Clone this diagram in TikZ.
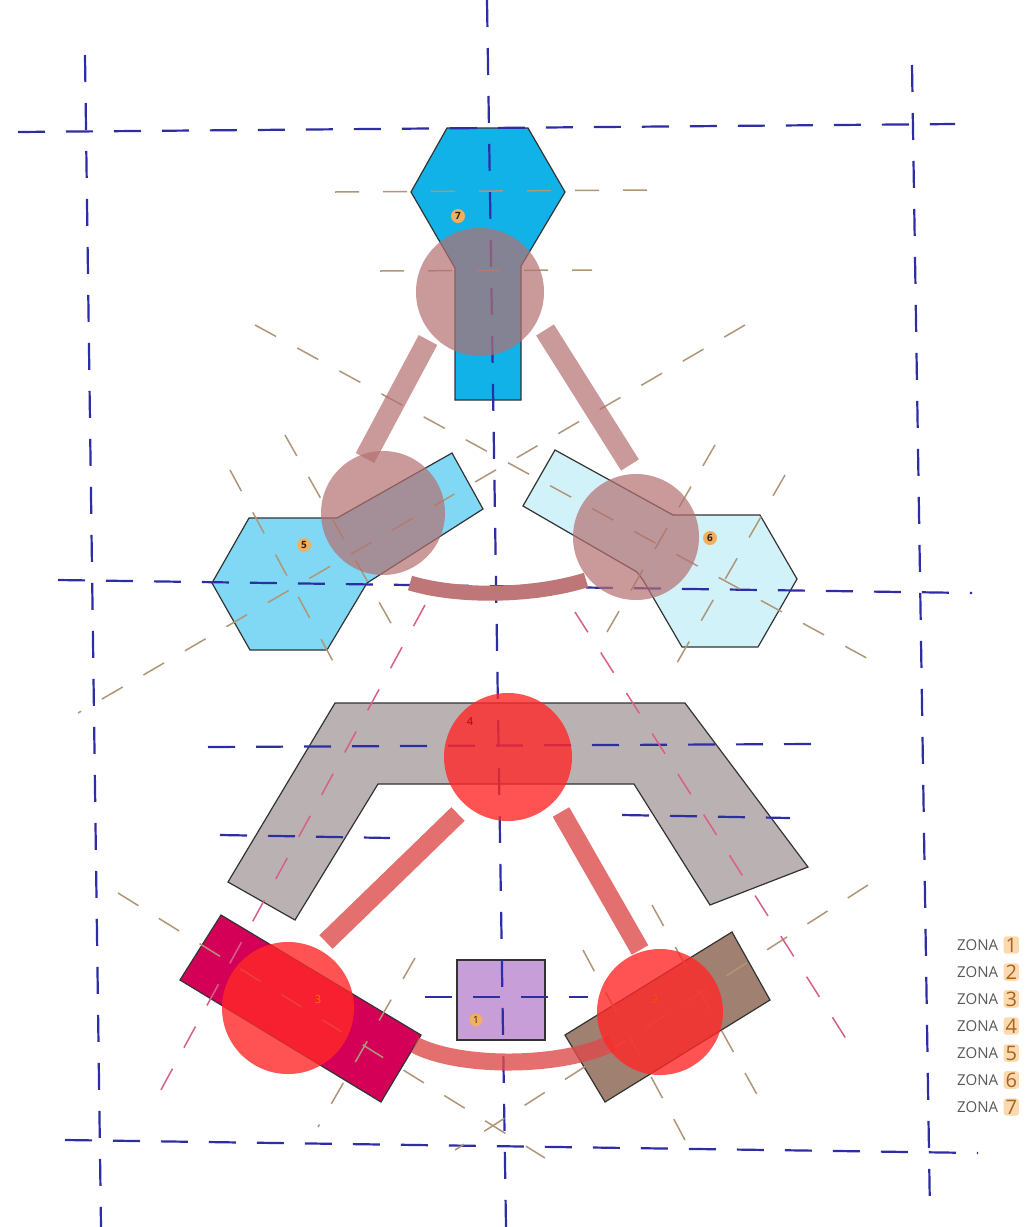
\documentclass[tikz,border=0pt]{standalone}
\usepackage{fontspec}
\newfontfamily\zfont{Open Sans}
\definecolor{navy}{RGB}{45,45,165}
\definecolor{tanl}{RGB}{176,150,120}
\definecolor{pinkd}{RGB}{215,95,140}
\definecolor{cyanA}{RGB}{16,178,232}
\definecolor{cyanB}{RGB}{128,216,244}
\definecolor{cyanC}{RGB}{210,242,250}
\definecolor{grayZ}{RGB}{186,178,178}
\definecolor{lav}{RGB}{200,158,216}
\definecolor{crim}{RGB}{212,0,88}
\definecolor{brownZ}{RGB}{160,128,112}
\definecolor{mauve}{RGB}{180,112,112}
\definecolor{arcrod}{RGB}{190,118,120}
\definecolor{redC}{RGB}{255,40,40}
\definecolor{rodR}{RGB}{220,75,75}
\definecolor{lbl}{RGB}{240,176,96}
\definecolor{hl}{RGB}{252,218,176}
\definecolor{numc}{RGB}{168,100,30}
\tikzset{
  zone/.style={draw=black!80, line width=1.2pt, line join=miter},
  bluedash/.style={navy, line width=2.2pt, dash pattern=on 27pt off 21pt},
  tandash/.style={tanl, line width=1.5pt, dash pattern=on 24pt off 24pt},
  pinkdash/.style={pinkd, line width=1.5pt, dash pattern=on 24pt off 24pt},
  ball/.style={fill=mauve, fill opacity=0.7},
  redball/.style={fill=redC, fill opacity=0.8},
  toprod/.style={draw=mauve, draw opacity=0.7, line width=21pt},
  lowrod/.style={draw=rodR, draw opacity=0.8, line width=19pt},
  tag/.style={circle, fill=lbl, inner sep=0pt, minimum size=14pt, text=black!75!brown, font=\zfont\bfseries\fontsize{10}{10}\selectfont},
  faint/.style={inner sep=0pt, font=\zfont\fontsize{11}{11}\selectfont},
  zonatxt/.style={anchor=west, inner sep=0pt, text=black!65, font=\zfont\fontsize{15}{15}\selectfont},
  zonanum/.style={anchor=west, fill=hl, rounded corners=3pt, inner xsep=2pt, inner ysep=1.5pt, text=numc, font=\zfont\fontsize{20}{20}\selectfont}
}
\begin{document}
\begin{tikzpicture}[x=1pt, y=-1pt]
\useasboundingbox (0,0) rectangle (1032,1227);
\fill[white] (0,0) rectangle (1032,1227);

% ---------- zone shapes ----------
% zone 4 (grey)
\draw[zone, fill=grayZ] (335,703) -- (685,703) -- (808,867) -- (710,905) -- (634,784) -- (378,784) -- (295,920) -- (228,882) -- cycle;
% zone 7 (cyan)
\draw[zone, fill=cyanA] (447,128) -- (528,128) -- (565,192) -- (521,266) -- (521,400) -- (455,400) -- (455,268) -- (411,192) -- cycle;
% zone 5
\draw[zone, fill=cyanB] (212,583) -- (249,518) -- (337,518) -- (452,453) -- (483,509) -- (367,583) -- (327,650) -- (250,650) -- cycle;
% zone 6
\draw[zone, fill=cyanC] (555,450) -- (673,515) -- (760,515) -- (797,579) -- (758,647) -- (682,647) -- (643,580) -- (637,572) -- (523,506) -- cycle;
% zone 1
\draw[zone, fill=lav] (457,960) rectangle (545,1040);
% zone 3
\draw[zone, fill=crim] (180,980) -- (221,915) -- (421,1035) -- (381,1102) -- cycle;
% zone 2
\draw[zone, fill=brownZ] (565,1035) -- (732,932) -- (770,1000) -- (605,1102) -- cycle;

% ---------- construction lines ----------
\draw[bluedash] (18,132) -- (955,124);
\draw[bluedash] (487,0) -- (506,1227);
\draw[bluedash] (85,55) -- (101,1227);
\draw[bluedash] (912,65) -- (930,1215);
\draw[bluedash] (58,580) -- (972,593);
\draw[bluedash] (65,1140) -- (978,1153);
\draw[bluedash] (208,747) -- (812,744);
\draw[bluedash] (220,835) -- (390,838);
\draw[bluedash] (622,815) -- (790,818);
\draw[bluedash] (425,997) -- (588,997);

\draw[tandash] (335,192) -- (652,190);
\draw[tandash] (380,271) -- (592,270);
\draw[tandash] (255,325) -- (885,668);
\draw[tandash] (745,325) -- (78,713);
\draw[tandash] (230,470) -- (335,665);
\draw[tandash] (285,435) -- (392,625);
\draw[tandash] (715,445) -- (607,632);
\draw[tandash] (785,475) -- (670,675);
\draw[tandash] (118,893) -- (545,1158);
\draw[tandash] (868,885) -- (455,1150);
\draw[tandash] (415,958) -- (318,1127);
\draw[tandash] (652,905) -- (760,1100);
\draw[tandash] (583,950) -- (685,1140);

\draw[pinkdash] (425,605) -- (150,1110);
\draw[pinkdash] (575,612) -- (850,1045);

% ---------- upper cluster ----------
\coordinate (c7) at (480,292);
\coordinate (c5) at (383,513);
\coordinate (c6) at (636,537);
\coordinate (r75a) at (428,340);
\coordinate (r75b) at (365,458);
\coordinate (r76a) at (545,330);
\coordinate (r76b) at (630,465);
\coordinate (a56a) at (410,583);
\coordinate (a56b) at (586,580);
\draw[toprod] (r75a) -- (r75b);
\draw[toprod] (r76a) -- (r76b);
\fill[ball] (c7) circle[radius=64];
\fill[ball] (c5) circle[radius=62];
\fill[ball] (c6) circle[radius=63];
\draw[arcrod, line width=15pt] (a56a) .. controls (460,598) and (535,596) .. (a56b);

% ---------- lower cluster ----------
\coordinate (c4) at (508,757);
\coordinate (c3) at (288,1008);
\coordinate (c2) at (660,1012);
\coordinate (r43a) at (458,814);
\coordinate (r43b) at (326,942);
\coordinate (r42a) at (561,812);
\coordinate (r42b) at (640,950);
\coordinate (a32a) at (415,1045);
\coordinate (a32b) at (612,1043);
\draw[lowrod] (r43a) -- (r43b);
\draw[lowrod] (r42a) -- (r42b);
\draw[lowrod, line width=17pt] (a32a) .. controls (460,1068) and (560,1068) .. (a32b);
\fill[redball] (c4) circle[radius=64];
\fill[redball] (c3) circle[radius=66];
\fill[redball] (c2) circle[radius=63];

% ---------- zone tags ----------
\node[tag] (t7) at (458,216) {7};
\node[tag] (t5) at (304,545) {5};
\node[tag] (t6) at (710,538) {6};
\node[tag, minimum size=13pt, font=\zfont\fontsize{10}{10}\selectfont] (t1) at (476,1020) {1};
\node[faint, text=red!70!black] (t4) at (470,722) {4};
\node[faint, text=orange!90!red] (t3) at (318,1000) {3};
\node[faint, text=orange!60!red] (t2) at (655,1000) {2};

% ---------- legend ----------
\foreach \i/\yy in {1/945,2/972,3/999,4/1026,5/1053,6/1080,7/1107}{
  \node[zonatxt] (z\i) at (957,\yy) {ZONA};
  \node[zonanum] (n\i) at ([xshift=5pt]z\i.east) {\i};
}
\end{tikzpicture}
\end{document}
